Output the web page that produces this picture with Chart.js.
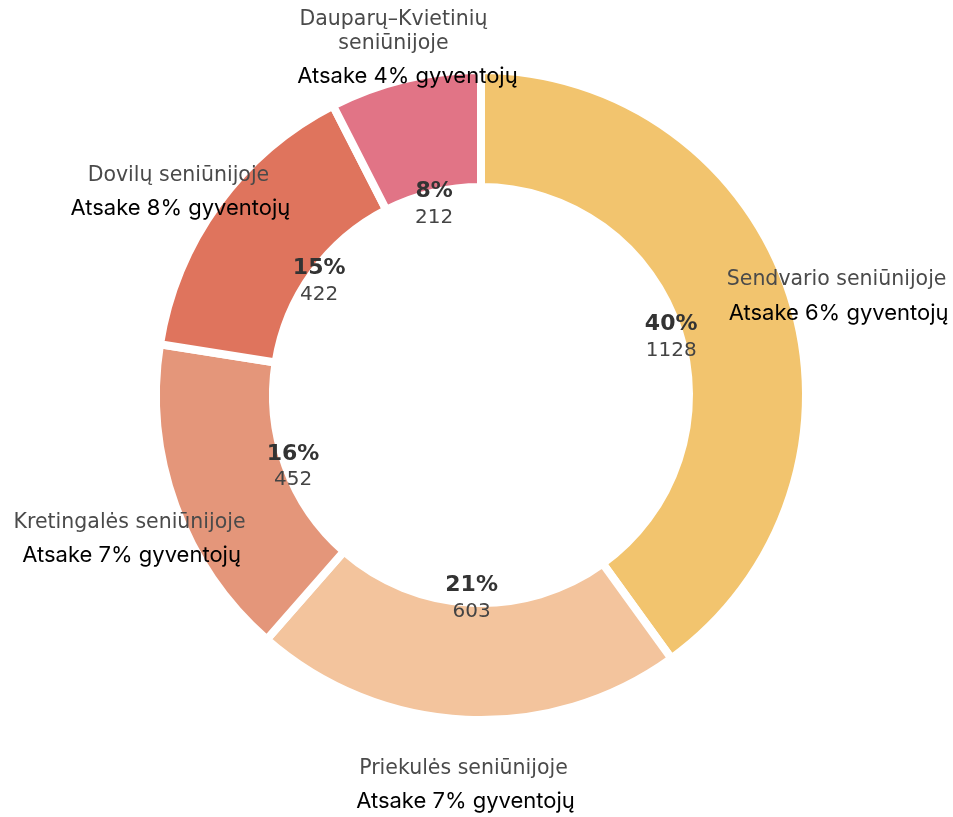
<!DOCTYPE html>
<html>
<head>
<meta charset="utf-8">
<script src="https://cdn.jsdelivr.net/npm/chart.js@4"></script>
<style>
  html, body { margin: 0; padding: 0; background: #fff; }
  #wrap { width: 953px; height: 817px; position: relative; }
</style>
</head>
<body>
<div id="wrap"><canvas id="donut"></canvas></div>
<script>
// data
var labels = ["Sendvario seniūnijoje", "Priekulės seniūnijoje", "Kretingalės seniūnijoje", "Dovilų seniūnijoje", "Dauparų–Kvietinių\nseniūnijoje"];
var counts = [1128, 603, 452, 422, 212];
var answered = [6, 7, 7, 8, 4]; // "Atsake X% gyventojų"
var colors = ['#F2C46E', '#F3C49D', '#E4967A', '#DF745D', '#E17486'];

var total = counts.reduce(function (a, b) { return a + b; }, 0);

// draws the text in and around the ring
var ringLabels = {
  id: 'ringLabels',
  afterDatasetsDraw: function (chart) {
    var ctx = chart.ctx;
    var arcs = chart.getDatasetMeta(0).data;
    ctx.save();
    ctx.textAlign = 'center';
    ctx.textBaseline = 'middle';
    arcs.forEach(function (arc, i) {
      var p = arc.getProps(['x', 'y', 'startAngle', 'endAngle', 'outerRadius']);
      var mid = (p.startAngle + p.endAngle) / 2;
      var cos = Math.cos(mid), sin = Math.sin(mid);

      // percent + count just inside the hole edge
      var r1 = p.outerRadius * 0.615;
      var ix = p.x + r1 * cos, iy = p.y + r1 * sin;
      ctx.fillStyle = '#333';
      ctx.font = 'bold 22px "DejaVu Sans"';
      ctx.fillText(Math.round(counts[i] / total * 100) + '%', ix, iy - 9);
      ctx.fillStyle = '#444';
      ctx.font = '20px "DejaVu Sans"';
      ctx.fillText(String(counts[i]), ix, iy + 17);

      // name outside the ring
      var r2 = p.outerRadius * 1.15;
      var ox = p.x + r2 * cos, oy = p.y + r2 * sin;
      var lines = labels[i].split('\n');
      var lh = 24;
      var top = oy - (lines.length - 1) * lh / 2;
      ctx.fillStyle = '#4a4a4a';
      ctx.font = '20.5px "DejaVu Sans"';
      lines.forEach(function (t, k) {
        ctx.fillText(t, ox, top + k * lh);
      });
      var last = top + (lines.length - 1) * lh;
      ctx.fillStyle = '#000';
      ctx.font = '22px Inter';
      ctx.fillText('Atsake ' + answered[i] + '% gyventojų', ox + (lines.length > 1 ? 14 : 2), last + 33);
    });
    ctx.restore();
  }
};

new Chart(document.getElementById('donut'), {
  type: 'doughnut',
  data: {
    labels: labels,
    datasets: [{
      data: counts,
      backgroundColor: colors,
      borderColor: '#ffffff',
      borderWidth: 8,
      hoverOffset: 0
    }]
  },
  options: {
    responsive: true,
    maintainAspectRatio: false,
    animation: false,
    cutout: '64%',
    layout: { padding: { left: 152, right: 143, top: 66, bottom: 93 } },
    plugins: {
      legend: { display: false },
      tooltip: { enabled: false }
    }
  },
  plugins: [ringLabels]
});
</script>
</body>
</html>
